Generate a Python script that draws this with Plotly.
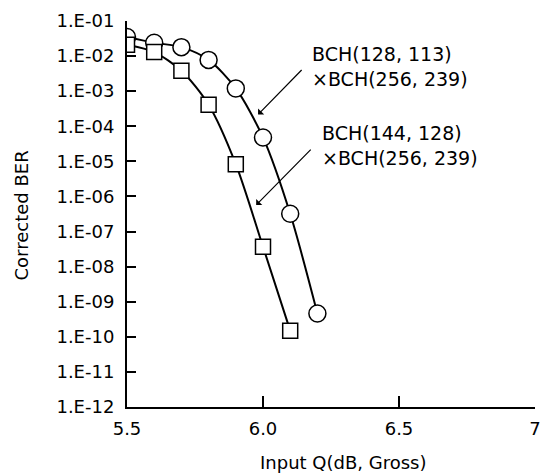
import plotly.graph_objects as go

# Input Q (dB, gross) and corrected BER for the two concatenated BCH codes
q_128_113 = [5.5, 5.6, 5.7, 5.8, 5.9, 6.0, 6.1, 6.2]
ber_128_113 = [3.5e-2, 2.4e-2, 1.8e-2, 7.8e-3, 1.2e-3, 4.8e-5, 3.2e-7, 4.6e-10]

q_144_128 = [5.5, 5.6, 5.7, 5.8, 5.9, 6.0, 6.1]
ber_144_128 = [2.1e-2, 1.3e-2, 3.8e-3, 4.1e-4, 8.3e-6, 3.7e-8, 1.5e-10]

y_exponents = list(range(-1, -13, -1))
y_ticktext = ["1.E-%02d" % (-e) for e in y_exponents]
x_tickvals = [5.5, 6.0, 6.5, 7.0]
x_ticktext = ["5.5", "6.0", "6.5", "7"]

FONT = "DejaVu Sans"

fig = go.Figure()
fig.add_trace(go.Scatter(
    x=q_128_113, y=ber_128_113, mode="lines+markers",
    line=dict(color="black", width=2, shape="spline", smoothing=0.8),
    marker=dict(symbol="circle", size=17, color="white",
                line=dict(color="black", width=1.5)),
    showlegend=False,
))
fig.add_trace(go.Scatter(
    x=q_144_128, y=ber_144_128, mode="lines+markers",
    line=dict(color="black", width=2, shape="spline", smoothing=0.8),
    marker=dict(symbol="square", size=15, color="white",
                line=dict(color="black", width=1.5)),
    showlegend=False,
))

# curve labels
fig.add_annotation(x=6.174, y=-2.30, xref="x", yref="y", xanchor="left", yanchor="middle",
                   text="BCH(128, 113)<br>×BCH(256, 239)", showarrow=False, align="left",
                   font=dict(family=FONT, size=19, color="black"))
fig.add_annotation(x=6.210, y=-4.54, xref="x", yref="y", xanchor="left", yanchor="middle",
                   text="BCH(144, 128)<br>×BCH(256, 239)", showarrow=False, align="left",
                   font=dict(family=FONT, size=19, color="black"))

# leader arrows pointing at each curve
fig.add_annotation(x=5.982, y=-3.665, xref="x", yref="y", text="", showarrow=True,
                   ax=45, ay=-46, arrowhead=1, arrowsize=1.2, arrowwidth=1.2, arrowcolor="black")
fig.add_annotation(x=5.975, y=-6.245, xref="x", yref="y", text="", showarrow=True,
                   ax=56, ay=-57, arrowhead=1, arrowsize=1.2, arrowwidth=1.2, arrowcolor="black")

# axis titles
fig.add_annotation(x=0.529, y=-0.144, xref="paper", yref="paper", xanchor="center",
                   yanchor="middle", text="Input Q(dB, Gross)", showarrow=False,
                   font=dict(family=FONT, size=18, color="black"))
fig.add_annotation(x=(20 - 127) / 414, y=0.495, xref="paper", yref="paper", xanchor="center",
                   yanchor="middle", text="Corrected BER", showarrow=False, textangle=-90,
                   font=dict(family=FONT, size=18, color="black"))

fig.update_xaxes(
    range=[5.5, 7.0], tickvals=x_tickvals, ticktext=x_ticktext,
    ticks="inside", ticklen=11, tickwidth=1.5, tickcolor="black",
    showline=True, linecolor="black", linewidth=2, showgrid=False, zeroline=False,
    tickfont=dict(family=FONT, size=18, color="black"), ticklabelstandoff=4,
)
fig.update_yaxes(
    type="log", range=[-12, -1],
    tickvals=[10.0 ** e for e in y_exponents], ticktext=y_ticktext,
    ticks="inside", ticklen=9, tickwidth=1.5, tickcolor="black",
    showline=True, linecolor="black", linewidth=2, showgrid=False, zeroline=False,
    tickfont=dict(family=FONT, size=18, color="black"), ticklabelstandoff=7,
)
fig.update_layout(
    width=551, height=473,
    margin=dict(l=127, r=10, t=19, b=66),
    plot_bgcolor="white", paper_bgcolor="white",
)
fig.write_html("out.html")
